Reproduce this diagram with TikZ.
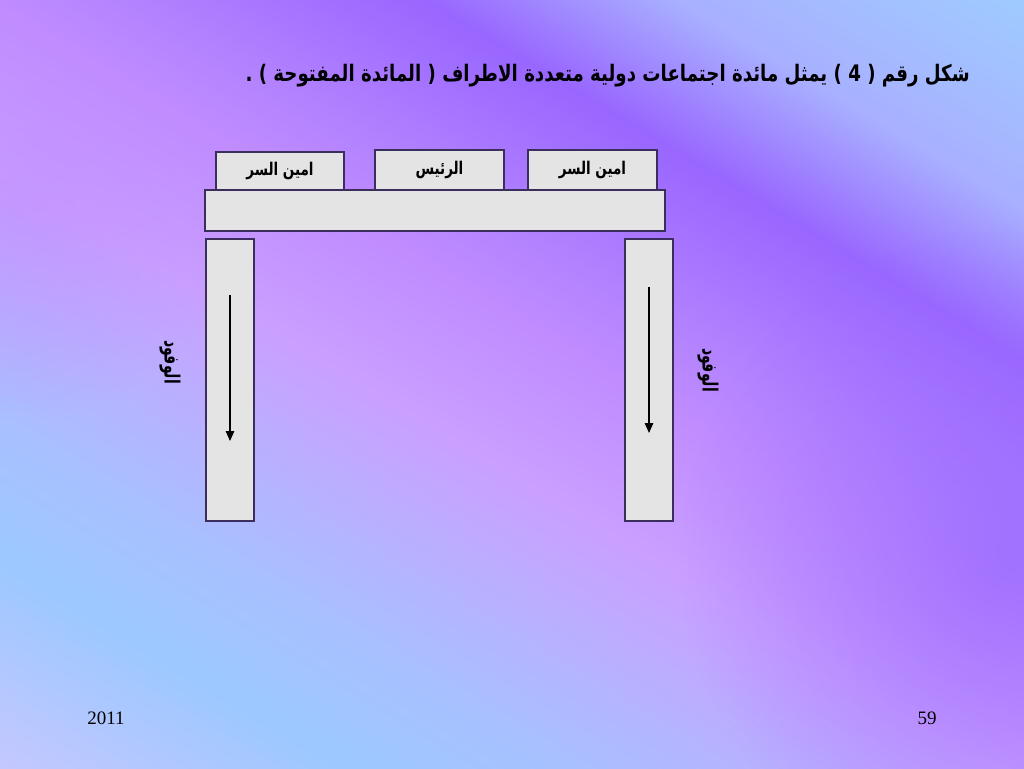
\documentclass[tikz,border=0pt]{standalone}
\usepackage{fontspec}
\usetikzlibrary{arrows.meta,fadings}
\TeXXeTstate=1
\newfontfamily\arfont[Script=Arabic]{DejaVu Sans}
\newfontfamily\tmsfont{Liberation Serif}
\definecolor{bgA}{HTML}{9FCBFF}
\definecolor{bgB}{HTML}{A8B0FF}
\definecolor{bgC}{HTML}{9966FF}
\definecolor{bgD}{HTML}{B585FF}
\definecolor{bgE}{HTML}{C08CFF}
\definecolor{bgF}{HTML}{C9A0FF}
\definecolor{bgG}{HTML}{A8C0FF}
\definecolor{bgH}{HTML}{9CC8FF}
\definecolor{bgI}{HTML}{C4C8FF}
\definecolor{blobcol}{HTML}{9A6BFF}
\definecolor{boxline}{HTML}{3B2D5C}
\definecolor{boxfill}{HTML}{E4E4E4}
\pgfdeclarehorizontalshading{bgshade}{100bp}{%
  color(0bp)=(bgA); color(25bp)=(bgA); color(32.5bp)=(bgB); color(38bp)=(bgC);
  color(45bp)=(bgD); color(47.5bp)=(bgE); color(53.5bp)=(bgF);
  color(62.5bp)=(bgG); color(67.5bp)=(bgH); color(75bp)=(bgI); color(100bp)=(bgI)}
\tikzfading[name=blobfade, inner color=transparent!0, outer color=transparent!100]
\tikzset{
  box/.style={draw=boxline, fill=boxfill, line width=1.2pt, inner sep=0pt},
  seat/.style={box, font=\arfont\bfseries\fontsize{13.5}{15}\selectfont},
  delegates/.style={font=\arfont\bfseries\fontsize{14}{16}\selectfont, rotate=-90, inner sep=0pt},
  flow/.style={line width=1.3pt, -{Triangle[width=8.5pt,length=10pt]}}
}
\begin{document}
\begin{tikzpicture}[x=1pt,y=-1pt]
\useasboundingbox (0,0) rectangle (1024,768);
\begin{scope}
  \clip (0,0) rectangle (1024,768);
  \shade[shading=bgshade, shading angle=239] (-81,-209) rectangle (1105,977);
  \fill[blobcol, path fading=blobfade, fill opacity=0.75] (1010,560) circle (330);
  \fill[bgE, path fading=blobfade, fill opacity=0.5] (20,200) circle (220);
\end{scope}
% title
\node[anchor=east, inner sep=0pt, font=\arfont\bfseries\fontsize{18.2}{20}\selectfont] (title) at (970,76)
  {\scalebox{1}[1.25]{\beginR شكل رقم ( 4 ) يمثل مائدة اجتماعات دولية متعددة الاطراف ( المائدة المفتوحة ) .\endR}};
% seats
\node[seat, minimum width=128pt, minimum height=38pt] (seatL) at (280,171) {\scalebox{1}[1.3]{\beginR امين السر\endR}};
\node[seat, minimum width=129pt, minimum height=40pt] (seatM) at (439.5,170) {\scalebox{1}[1.3]{\beginR الرئيس\endR}};
\node[seat, minimum width=129pt, minimum height=40pt] (seatR) at (592.5,170) {\scalebox{1}[1.3]{\beginR امين السر\endR}};
% table
\node[box, minimum width=460pt, minimum height=41pt] (table) at (435,210.5) {};
% legs
\node[box, minimum width=48pt, minimum height=282pt] (legL) at (230,380) {};
\node[box, minimum width=48pt, minimum height=282pt] (legR) at (649,380) {};
% arrows
\coordinate (aL1) at (230,295);
\coordinate (aL2) at (230,441);
\coordinate (aR1) at (649,287);
\coordinate (aR2) at (649,433);
\draw[flow] (aL1) -- (aL2);
\draw[flow] (aR1) -- (aR2);
% side labels
\node[delegates] (delL) at (170,362) {\scalebox{1}[1.5]{\beginR الوفود\endR}};
\node[delegates] (delR) at (708,370) {\scalebox{1}[1.5]{\beginR الوفود\endR}};
% footer
\node[font=\tmsfont\fontsize{19}{22}\selectfont, inner sep=0pt] (year) at (106,718) {2011};
\node[font=\tmsfont\fontsize{19}{22}\selectfont, inner sep=0pt] (page) at (927,718) {59};
\end{tikzpicture}
\end{document}
